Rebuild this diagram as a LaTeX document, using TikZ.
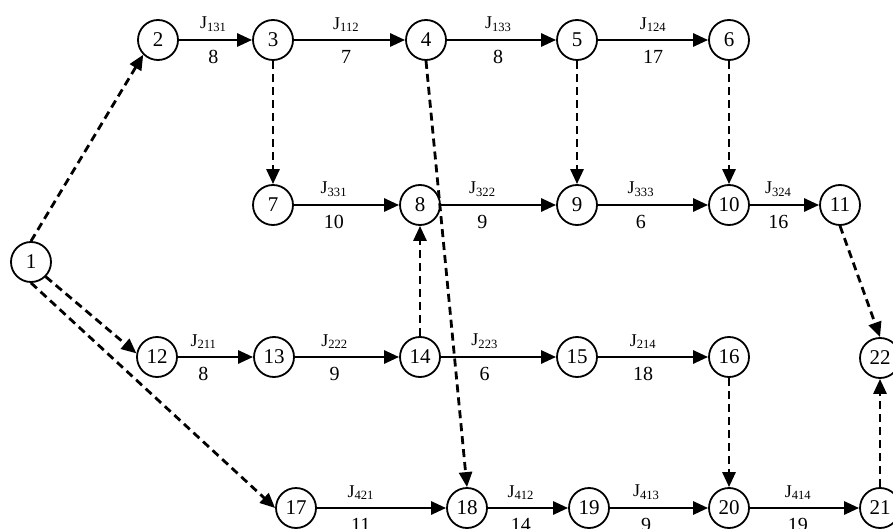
\documentclass[tikz,border=0pt]{standalone}
\usepackage{fontspec}
\setmainfont{Liberation Serif}
\usetikzlibrary{arrows.meta}

\tikzset{
  event/.style={circle,draw,line width=1.8pt,minimum size=40pt,inner sep=0pt,
    font=\fontsize{21}{21}\selectfont},
  task/.style={line width=2.8pt,-{Triangle[length=15pt,width=13pt]}},
  dummy/.style={task,dash pattern=on 8pt off 5pt},
  jname/.style={above,inner sep=7pt,font=\fontsize{18}{18}\selectfont},
  dur/.style={below,inner sep=9pt,font=\fontsize{20}{20}\selectfont},
}

\begin{document}
\begin{tikzpicture}[x=1pt,y=-1pt]
  \useasboundingbox (0,0) rectangle (893,529);
  \clip (0,0) rectangle (893,529);
  % events
  \foreach \n/\x/\y in {1/31/262,
      2/158/40, 3/273/40, 4/426/40, 5/577/40, 6/729/40,
      7/273/205, 8/420/205, 9/577/205, 10/729/205, 11/840/205,
      12/157/357, 13/274/357, 14/420/357, 15/577/357, 16/729/357, 22/880/358,
      17/296/508, 18/467/508, 19/589/508, 20/729/508, 21/880/508}
    \node[event] (n\n) at (\x,\y) {\n};
  % tasks
  \foreach \a/\b/\j/\d/\p in {2/3/131/8/.47, 3/4/112/7/.47, 4/5/133/8/.47, 5/6/124/17/.5,
      7/8/331/10/.38, 8/9/322/9/.36, 9/10/333/6/.39, 10/11/324/16/.41,
      12/13/211/8/.34, 13/14/222/9/.38, 14/15/223/6/.38, 15/16/214/18/.41,
      17/18/421/11/.34, 18/19/412/14/.41, 19/20/413/9/.37, 20/21/414/19/.44}
    \draw[task] (n\a) -- node[pos=\p,jname] {J\textsubscript{\j}}
                          node[pos=\p,dur] {\d} (n\b);
  % dummy tasks
  \draw[dummy] (n1.north) -- (n2.south west);
  \draw[dummy] (n1.south east) -- (n12.170);
  \draw[dummy] (n1.south) -- (n17.west);
  \draw[dummy] (n3) -- (n7);
  \draw[dummy] (n4.south) -- (n18.north);
  \draw[dummy] (n5) -- (n9);
  \draw[dummy] (n6) -- (n10);
  \draw[dummy] (n14) -- (n8);
  \draw[dummy] (n16) -- (n20);
  \draw[dummy] (n11.south) -- (n22.north);
  \draw[dummy] (n21) -- (n22);
\end{tikzpicture}
\end{document}
